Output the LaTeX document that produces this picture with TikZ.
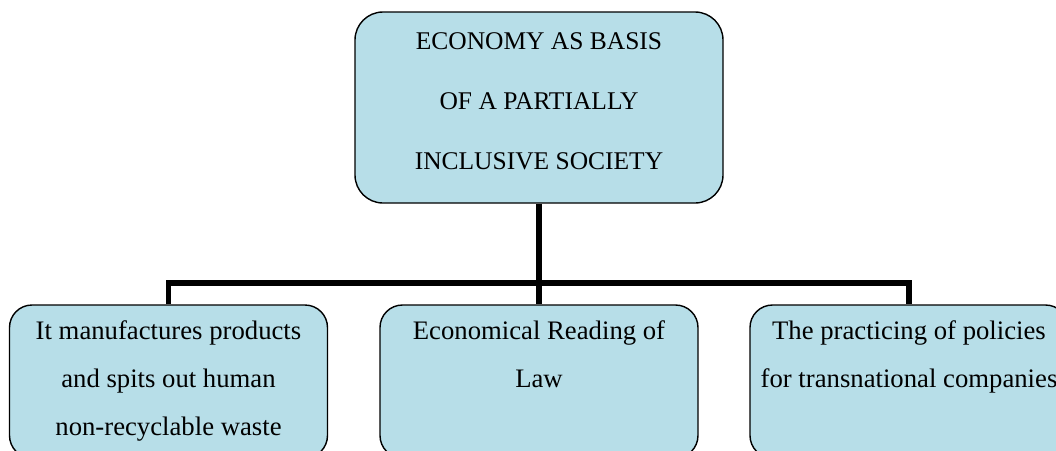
\documentclass[tikz,border=0pt]{standalone}
\usepackage{fontspec}
\setmainfont{Liberation Serif}
\definecolor{boxBlue}{RGB}{183,222,232}
\begin{document}
\begin{tikzpicture}
        [box/.style={draw, rounded corners=0.45cm, line width=0.8pt, fill=boxBlue, minimum width=6.36cm, minimum height=3.06cm},
        boxTop/.style={box, rounded corners=0.56cm, minimum width=7.36cm, minimum height=3.82cm},
        txt/.style={anchor=north, align=center, inner sep=0pt, font=\fontsize{15.2}{27.3}\selectfont},
        txtTop/.style={txt, font=\fontsize{14.5}{34.1}\selectfont},
        link/.style={line width=3pt}]
        \useasboundingbox (0,0) rectangle (21.12,-9);
        \node[boxTop] (E) at (10.78,-2.15) {};
        \node[box] (W) at (3.37,-7.63) {};
        \node[box] (L) at (10.78,-7.63) {};
        \node[box] (P) at (18.18,-7.63) {};
        \coordinate (bar) at (10.78,-5.66);
        
        \node[txtTop] (Etext) at (10.78,-0.64) {ECONOMY AS BASIS\\OF A PARTIALLY\\INCLUSIVE SOCIETY};
        \node[txt] (Wtext) at (3.37,-6.41) {It manufactures products\\and spits out human\\non-recyclable waste};
        \node[txt] (Ltext) at (10.78,-6.41) {Economical Reading of\\Law};
        \node[txt] (Ptext) at (18.18,-6.41) {The practicing of policies\\for transnational companies};
        
        \draw[link] (E) -- (L);
        \draw[link] (W) |- (bar) -| (P);
    \end{tikzpicture}
\end{document}
